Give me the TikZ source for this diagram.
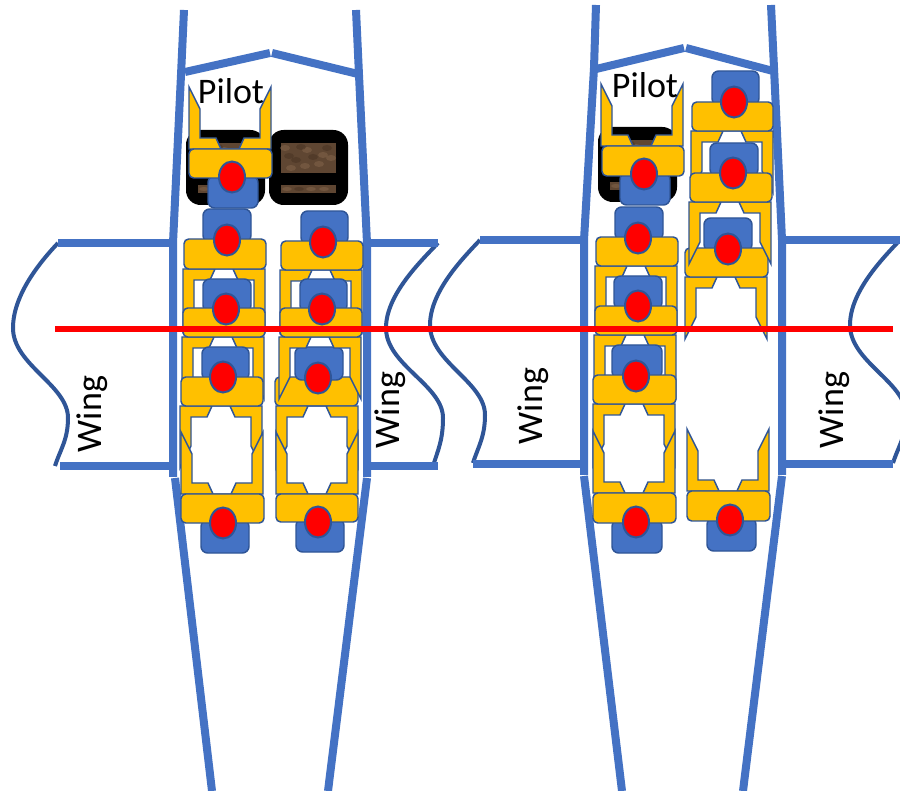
\documentclass[tikz,border=0pt]{standalone}
\usepackage{fontspec}
\setmainfont{Carlito}
\tikzset{
  x=0.75pt,y=-0.75pt,
  hull/.style={draw=hullblue,line width=6pt},
  wingedge/.style={draw=edgeblue,line width=3pt},
  frameshape/.style={draw=edgeblue,line width=1.1pt,fill=seatyellow,line join=miter},
  barshape/.style={draw=edgeblue,line width=1.1pt,fill=seatyellow,rounded corners=3.5pt},
  headshape/.style={draw=edgeblue,line width=1.1pt,fill=hullblue,rounded corners=5pt},
  dotshape/.style={draw=edgeblue,line width=1.5pt,fill=red},
  label/.style={font=\fontsize{27}{30}\selectfont,inner sep=0pt,text=black},
}
\definecolor{hullblue}{HTML}{4472C4}
\definecolor{edgeblue}{HTML}{2F5597}
\definecolor{seatyellow}{HTML}{FFC000}
\definecolor{cushbrown}{HTML}{5F4632}
\definecolor{cushlight}{HTML}{7F6248}
\definecolor{cushdark}{HTML}{4A3424}
% cup: #1 centre x, #2 y of open-side base, #3 yscale (+1 opens upward, -1 opens downward)
\newcommand{\seatcup}[3]{%
  \begin{scope}[shift={(#1,#2)},yscale=#3]
    \draw[frameshape] (-41,0) -- (-41,-62) -- (-30,-40) -- (-30,-11) -- (-14,-11) -- (-9,0) -- (9,0) -- (14,-11) -- (30,-11) -- (30,-40) -- (41,-62) -- (41,0) -- cycle;
  \end{scope}}
\newcommand{\seatbar}[4]{\draw[barshape] (#1,#2) rectangle (#3,#4);}
\newcommand{\seathead}[4]{\draw[headshape] (#1,#2) rectangle (#3,#4);}
\newcommand{\seatdot}[2]{\draw[dotshape] (#1,#2) ellipse [x radius=13,y radius=15.5];}
% black cushion with mottled covering: #1 x1, #2 y1
\newcommand{\cushion}[2]{%
  \begin{scope}[shift={(#1,#2)}]
    \fill[black,rounded corners=11pt] (0,0) rectangle (79,75);
    \fill[cushbrown] (12,13) rectangle (67,43);
    \fill[cushbrown] (12,55) rectangle (67,63);
    \foreach \a/\b/\c in {16/18/cushlight,27/30/cushdark,38/20/cushlight,50/34/cushlight,58/18/cushdark,22/38/cushlight,44/27/cushdark,62/28/cushlight,32/17/cushdark,54/25/cushlight,20/26/cushdark,36/36/cushlight}
      \fill[\c,opacity=.6] (\a,\b) ellipse [x radius=5,y radius=3];
    \foreach \a/\c in {18/cushlight,30/cushdark,42/cushlight,55/cushlight}
      \fill[\c,opacity=.6] (\a,59) ellipse [x radius=5,y radius=2];
  \end{scope}}
\newcommand{\wingline}[4]{% start x, leftmost x, rightmost x, end x, from height \wya
  \draw[wingedge] (#1,\wya) .. controls ({#1-18},{\wya+19}) and (#2,{\wya+52}) .. (#2,{\wya+85})
    .. controls (#2,{\wya+122}) and (#3,{\wya+142}) .. (#3,{\wya+175})
    .. controls (#3,{\wya+197}) and ({#4+5},{\wya+207}) .. (#4,{\wya+223});}
\begin{document}
\begin{tikzpicture}
\useasboundingbox (0,0) rectangle (900,791);
\fill[white] (0,0) rectangle (900,791);

% ---------- wings, plane 1
\def\wya{243}
\wingline{58}{13}{68}{55}
\wingline{438}{386}{443}{433}
\draw[hull] (58,243) -- (172,243);
\draw[hull] (60,466) -- (172,466);
\draw[hull] (370,243) -- (438,243);
\draw[hull] (370,466) -- (438,466);
% ---------- wings, plane 2
\def\wya{240}
\wingline{480}{430}{485}{473}
\wingline{900}{850}{906}{893}
\draw[hull] (480,240) -- (583,240);
\draw[hull] (473,464) -- (583,464);
\draw[hull] (785,240) -- (900,240);
\draw[hull] (785,464) -- (893,464);

% ---------- fuselage, plane 1
\draw[hull] (184,10) -- (181,75) -- (173,243) -- (173,477);
\draw[hull] (175,478) -- (212,791);
\draw[hull] (356,10) -- (359,75) -- (367,243) -- (367,477);
\draw[hull] (367,478) -- (328,791);
\draw[hull] (185,72) -- (270,53);
\draw[hull] (272,53) -- (358,74);
% ---------- fuselage, plane 2
\draw[hull] (596,5) -- (594,68) -- (584,240) -- (584,475);
\draw[hull] (584,476) -- (622,791);
\draw[hull] (771,5) -- (774,68) -- (782,240) -- (782,475);
\draw[hull] (782,476) -- (743,791);
\draw[hull] (596,69) -- (684,48);
\draw[hull] (686,48) -- (773,71);

% ---------- plane 1, cushions
\cushion{186}{130}
\cushion{269}{130}
% pilot seat, plane 1
\seatcup{230}{149}{1}
\seathead{208}{176}{258}{208}
\seatbar{189}{149}{272}{178}
\seatdot{232}{177}
% plane 1, left column
\seathead{203}{209}{251}{242}
\seatcup{224}{269}{-1}
\seatbar{184}{239}{266}{269}
\seatdot{227}{240}
\seathead{203}{279}{251}{312}
\seatcup{223}{337}{-1}
\seatbar{183}{308}{265}{337}
\seatdot{226}{309}
\seathead{202}{347}{249}{380}
\seatcup{221}{406}{-1}
\seatbar{181}{377}{263}{406}
\seatdot{223}{377}
\seatcup{222}{494}{1}
\seathead{201}{520}{249}{553}
\seatbar{181}{494}{264}{523}
\seatdot{223}{523}
% plane 1, right column
\seathead{301}{211}{348}{244}
\seatcup{321}{270}{-1}
\seatbar{281}{241}{363}{270}
\seatdot{323}{242}
\seathead{300}{279}{347}{312}
\seatbar{275}{377}{358}{406}
\seathead{295}{347}{343}{380}
\seatcup{317}{406}{-1}
\seatcup{320}{337}{-1}
\seatbar{280}{308}{362}{337}
\seatdot{322}{309}
\seatdot{318}{378}
\seatcup{317}{494}{1}
\seathead{296}{519}{344}{552}
\seatbar{276}{494}{358}{522}
\seatdot{318}{522}

% ---------- plane 2, cushion and pilot seat
\cushion{598}{127}
\seatcup{642}{146}{1}
\seathead{620}{173}{670}{205}
\seatbar{602}{146}{684}{176}
\seatdot{644}{174}
% plane 2, left column
\seathead{615}{207}{663}{240}
\seatcup{636}{266}{-1}
\seatbar{596}{237}{678}{266}
\seatdot{638}{238}
\seathead{614}{276}{662}{309}
\seatcup{635}{335}{-1}
\seatbar{595}{306}{677}{335}
\seatdot{638}{306}
\seathead{612}{345}{662}{378}
\seatcup{634}{404}{-1}
\seatbar{593}{375}{676}{404}
\seatdot{636}{376}
\seatcup{634}{493}{1}
\seathead{612}{520}{662}{553}
\seatbar{593}{493}{676}{523}
\seatdot{636}{522}
% plane 2, right column
\seathead{712}{71}{759}{105}
\seatcup{732}{131}{-1}
\seatbar{692}{102}{773}{131}
\seatdot{734}{102}
\seathead{704}{218}{752}{251}
\seatcup{726}{277}{-1}
\seatbar{685}{248}{768}{277}
\seatcup{730}{202}{-1}
\seathead{710}{143}{758}{176}
\seatbar{690}{173}{772}{202}
\seatdot{733}{173}
\seatdot{728}{249}
\seatcup{728}{491}{1}
\seathead{707}{518}{756}{551}
\seatbar{687}{491}{770}{521}
\seatdot{730}{520}

% ---------- centre line on top
\coordinate (axisL) at (55,329);
\coordinate (axisR) at (893,329);
\draw[red,line width=4pt] (axisL) -- (axisR);

% ---------- labels
\node[label] (pilotA) at (231,91) {Pilot};
\node[label] (pilotB) at (645,85) {Pilot};
\node[label,rotate=90] (wingA) at (92,414) {Wing};
\node[label,rotate=90] (wingB) at (390,410) {Wing};
\node[label,rotate=90] (wingC) at (533,406) {Wing};
\node[label,rotate=90] (wingD) at (834,410) {Wing};
\end{tikzpicture}
\end{document}
